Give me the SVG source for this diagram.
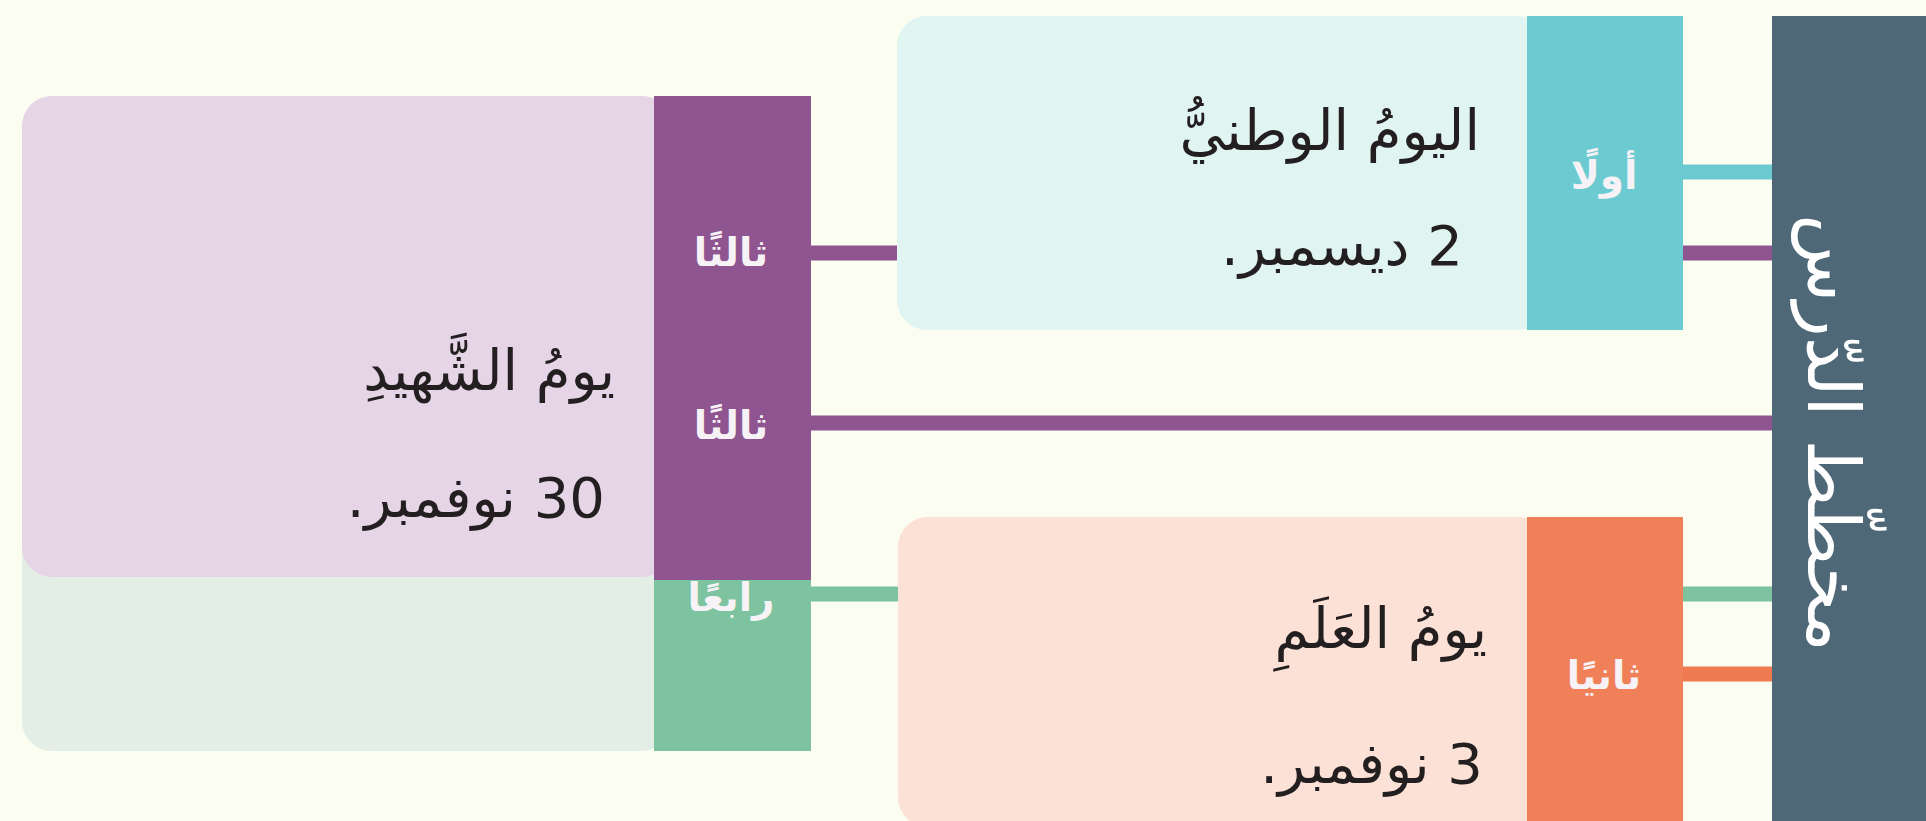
<svg xmlns="http://www.w3.org/2000/svg" width="1926" height="821" viewBox="0 0 1926 821">
<style>
.body{font-family:"DejaVu Sans",sans-serif;font-size:56px;fill:#231f20;direction:rtl;text-anchor:start}
.tab{font-family:"DejaVu Sans",sans-serif;font-size:39px;font-weight:bold;fill:#f6f2f6;text-anchor:middle;direction:rtl}
.title{font-family:"DejaVu Sans",sans-serif;font-size:72px;fill:#ffffff;text-anchor:middle;direction:rtl}
.c{stroke-width:15;fill:none}
</style>
<rect x="0" y="0" width="1926" height="821" fill="#fbfdf1"/>
<g id="connectors">
<line class="c" x1="1683" y1="172" x2="1775" y2="172" stroke="#6ccbd0"/>
<line class="c" x1="1683" y1="253" x2="1775" y2="253" stroke="#8e5590"/>
<line class="c" x1="808" y1="253" x2="900" y2="253" stroke="#8e5590"/>
<line class="c" x1="808" y1="423" x2="1775" y2="423" stroke="#8e5590"/>
<line class="c" x1="808" y1="594" x2="900" y2="594" stroke="#7dc3a0"/>
<line class="c" x1="1683" y1="594" x2="1775" y2="594" stroke="#7dc3a0"/>
<line class="c" x1="1683" y1="674" x2="1775" y2="674" stroke="#f07a50"/>
</g>
<g id="title">
<rect x="1772" y="16" width="160" height="810" fill="#4e6878"/>
<text class="title" transform="translate(1808,433) rotate(90)" x="0" y="0">مخطّط الدّرس</text>
</g>
<g id="node-4">
<rect x="22" y="400" width="650" height="351" rx="30" fill="#e3efe6"/>
<rect x="654" y="560" width="157" height="191" fill="#7dc3a0"/>
<text class="tab" x="731" y="611">رابعًا</text>
</g>
<g id="node-3">
<rect x="22" y="96" width="650" height="481" rx="30" fill="#e6d5e6"/>
<rect x="654" y="96" width="157" height="484" fill="#8e5590"/>
<text class="tab" x="731" y="266">ثالثًا</text>
<text class="tab" x="731" y="439">ثالثًا</text>
<text class="body" x="615" y="390">يومُ الشَّهيدِ</text>
<text class="body" x="605" y="517">30 نوفمبر.</text>
</g>
<g id="node-1">
<rect x="897" y="16" width="650" height="314" rx="30" fill="#e0f4f1"/>
<rect x="1527" y="16" width="156" height="314" fill="#6ccbd0"/>
<text class="tab" x="1604" y="189">أولًا</text>
<text class="body" x="1480" y="150">اليومُ الوطنيُّ</text>
<text class="body" x="1463" y="265">2 ديسمبر.</text>
</g>
<g id="node-2">
<rect x="898" y="517" width="650" height="310" rx="30" fill="#fce1d6"/>
<rect x="1527" y="517" width="156" height="310" fill="#f08058"/>
<text class="tab" x="1604" y="689">ثانيًا</text>
<text class="body" x="1487" y="648">يومُ العَلَمِ</text>
<text class="body" x="1483" y="783">3 نوفمبر.</text>
</g>
</svg>
